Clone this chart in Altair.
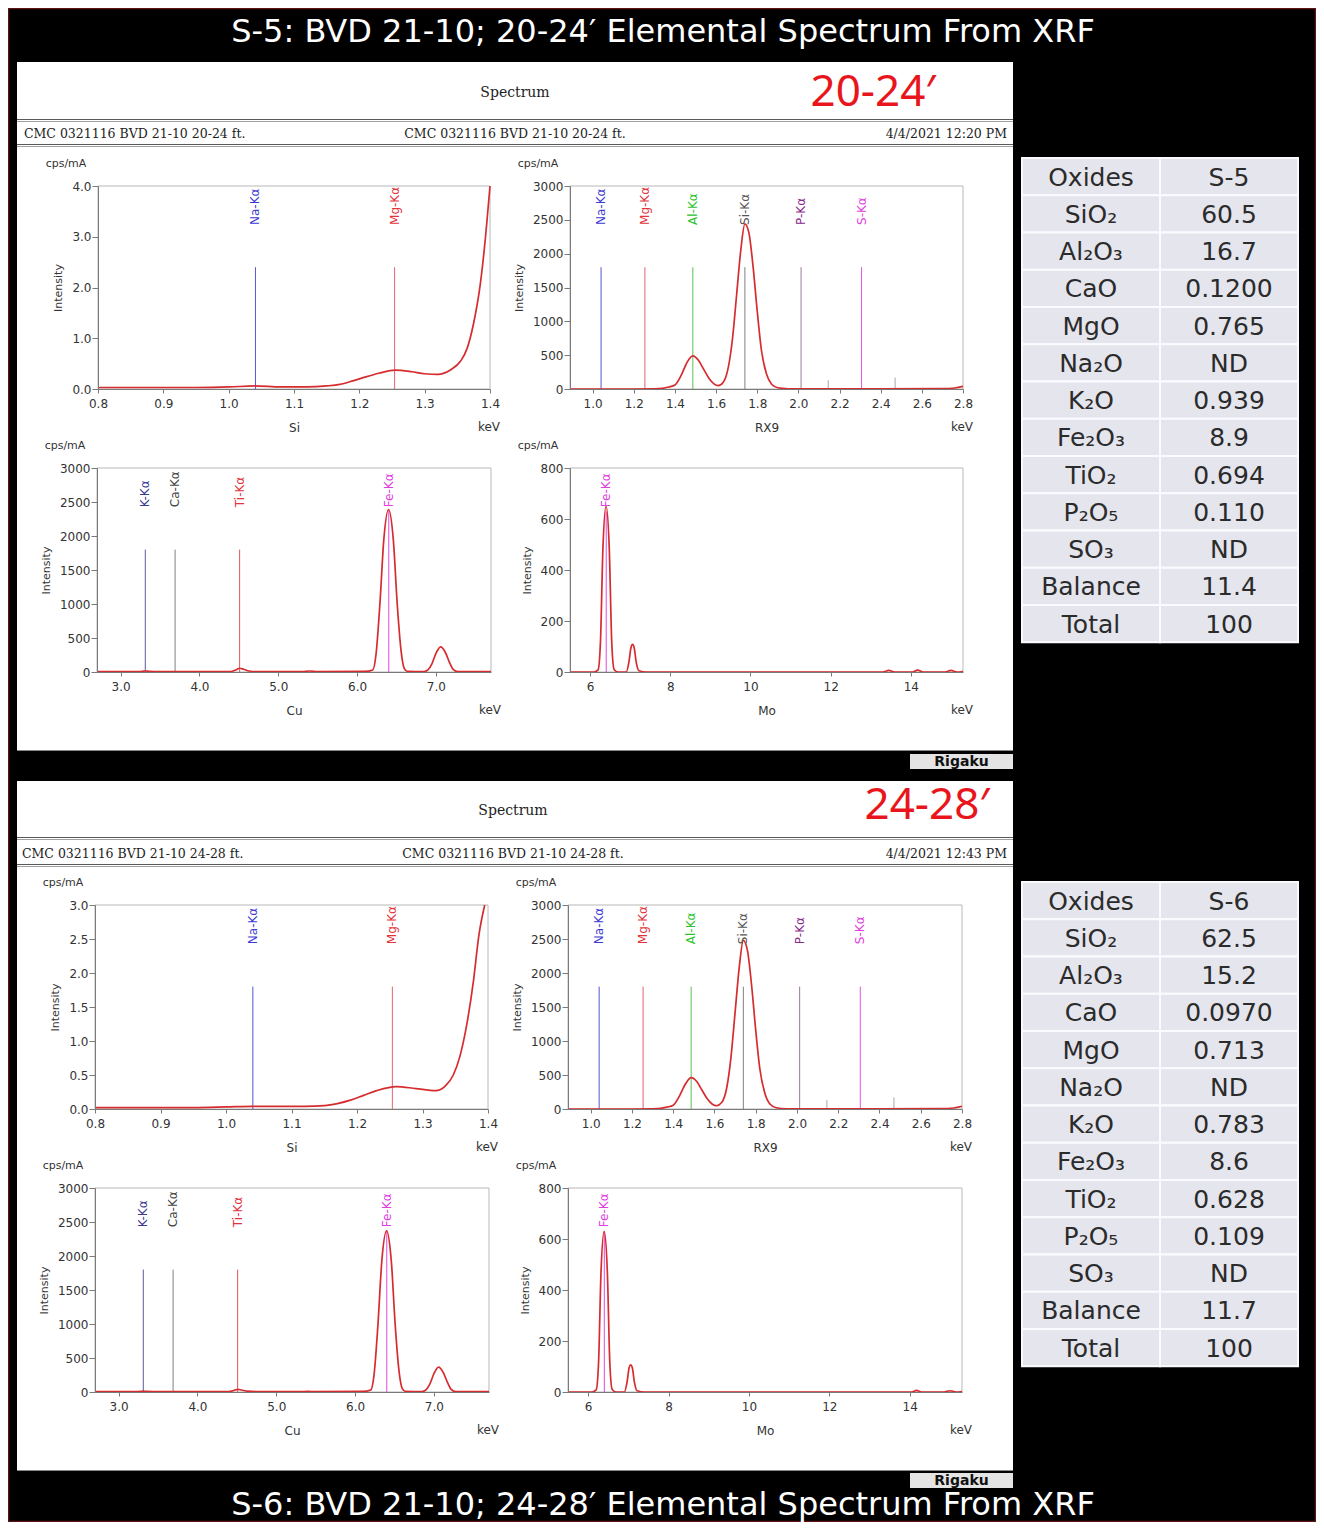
import altair as alt
import pandas as pd

# ------------------------------------------------------------------ data
title_top = "S-5: BVD 21-10; 20-24′ Elemental Spectrum From XRF"
title_bottom = "S-6: BVD 21-10; 24-28′ Elemental Spectrum From XRF"
depth_labels = ["20-24′", "24-28′"]
sample_ids = ["CMC 0321116 BVD 21-10 20-24 ft.", "CMC 0321116 BVD 21-10 24-28 ft."]
timestamps = ["4/4/2021 12:20 PM", "4/4/2021 12:43 PM"]
header_word = "Spectrum"
logo_word = "Rigaku"

oxide_rows = ["Oxides", "SiO₂", "Al₂O₃", "CaO", "MgO", "Na₂O", "K₂O", "Fe₂O₃",
              "TiO₂", "P₂O₅", "SO₃", "Balance", "Total"]
s5_column = ["S-5", "60.5", "16.7", "0.1200", "0.765", "ND", "0.939", "8.9",
             "0.694", "0.110", "ND", "11.4", "100"]
s6_column = ["S-6", "62.5", "15.2", "0.0970", "0.713", "ND", "0.783", "8.6",
             "0.628", "0.109", "ND", "11.7", "100"]

# element marker lines (names, energies keV, marker heights)
si_elements = ["Na-Kα", "Mg-Kα"]
si_energies = [1.041, 1.254]
si_heights_1 = [2.4, 2.4]
si_heights_2 = [1.8, 1.8]
rx9_elements = ["Na-Kα", "Mg-Kα", "Al-Kα", "Si-Kα", "P-Kα", "S-Kα"]
rx9_energies = [1.041, 1.254, 1.487, 1.740, 2.013, 2.307]
rx9_heights = [1800, 1800, 1800, 1800, 1800, 1800]
rx9_minor_energies = [2.145, 2.470]
rx9_minor_heights = [130, 170]
cu_elements = ["K-Kα", "Ca-Kα", "Ti-Kα", "Fe-Kα"]
cu_energies = [3.313, 3.691, 4.510, 6.403]
cu_heights = [1800, 1800, 1800, 2380]
mo_elements = ["Fe-Kα"]
mo_energies = [6.403]
mo_heights = [630]

# spectra: S-5 (20-24')
si_kev_1 = [0.80, 0.85, 0.90, 0.95, 1.00, 1.04, 1.08, 1.12, 1.15, 1.17, 1.19, 1.21,
            1.23, 1.255, 1.28, 1.30, 1.32, 1.34, 1.355, 1.365, 1.375, 1.385, 1.392, 1.400]
si_int_1 = [0.03, 0.03, 0.03, 0.03, 0.04, 0.06, 0.04, 0.04, 0.06, 0.09, 0.16, 0.24,
            0.31, 0.37, 0.34, 0.30, 0.29, 0.38, 0.55, 0.80, 1.30, 2.05, 2.85, 4.00]
rx9_kev_1 = [0.89, 1.00, 1.20, 1.30, 1.34, 1.37, 1.40, 1.43, 1.46, 1.487, 1.515, 1.54,
             1.565, 1.59, 1.61, 1.635, 1.66, 1.68, 1.70, 1.72, 1.74, 1.76, 1.78, 1.80,
             1.82, 1.845, 1.87, 1.90, 1.95, 2.00, 2.40, 2.70, 2.76, 2.80]
rx9_int_1 = [0, 0, 0, 2, 10, 30, 60, 200, 400, 490, 420, 290,
             160, 75, 50, 100, 330, 750, 1400, 2050, 2440, 2300, 1800, 1150,
             580, 220, 70, 18, 4, 2, 2, 5, 15, 38]
cu_kev_1 = [2.70, 3.20, 3.28, 3.31, 3.36, 3.50, 4.40, 4.46, 4.51, 4.56, 4.63, 4.75,
            5.30, 5.40, 5.50, 6.10, 6.20, 6.24, 6.29, 6.34, 6.40, 6.46, 6.51, 6.56,
            6.60, 6.64, 6.85, 6.90, 6.95, 7.00, 7.06, 7.12, 7.17, 7.22, 7.28, 7.70]
cu_int_1 = [5, 5, 10, 15, 10, 5, 5, 30, 55, 40, 15, 5,
            5, 15, 5, 8, 30, 250, 1000, 1950, 2390, 1950, 1000, 300,
            50, 8, 5, 30, 120, 270, 370, 290, 150, 40, 6, 5]
mo_kev_1 = [5.50, 6.10, 6.20, 6.26, 6.32, 6.40, 6.48, 6.54, 6.60, 6.70, 6.90, 6.97,
            7.02, 7.06, 7.10, 7.15, 7.22, 7.40, 13.30, 13.45, 13.60, 14.05, 14.17,
            14.30, 14.85, 15.00, 15.15, 15.30]
mo_int_1 = [0, 0, 8, 120, 480, 650, 480, 120, 10, 0, 0, 40,
            95, 108, 95, 40, 5, 0, 0, 6, 0, 0, 7,
            0, 0, 6, 0, 2]

# spectra: S-6 (24-28')
si_kev_2 = [0.80, 0.85, 0.90, 0.95, 1.00, 1.04, 1.08, 1.12, 1.15, 1.17, 1.19, 1.21,
            1.23, 1.26, 1.29, 1.32, 1.335, 1.347, 1.357, 1.367, 1.378, 1.386, 1.395]
si_int_2 = [0.02, 0.02, 0.02, 0.02, 0.03, 0.04, 0.04, 0.04, 0.05, 0.08, 0.13, 0.20,
            0.27, 0.33, 0.30, 0.27, 0.34, 0.50, 0.77, 1.21, 1.90, 2.55, 3.00]
rx9_kev_2 = [0.89, 1.00, 1.20, 1.30, 1.34, 1.37, 1.40, 1.43, 1.46, 1.487, 1.515, 1.54,
             1.565, 1.59, 1.61, 1.635, 1.66, 1.68, 1.70, 1.72, 1.74, 1.76, 1.78, 1.80,
             1.82, 1.845, 1.87, 1.90, 1.95, 2.00, 2.40, 2.70, 2.76, 2.80]
rx9_int_2 = [0, 0, 0, 2, 9, 28, 55, 190, 370, 460, 400, 275,
             150, 70, 48, 95, 320, 760, 1420, 2080, 2480, 2330, 1820, 1160,
             590, 225, 70, 18, 4, 2, 2, 5, 15, 40]
cu_kev_2 = [2.70, 3.20, 3.28, 3.31, 3.36, 3.50, 4.40, 4.46, 4.51, 4.56, 4.63, 4.75,
            5.30, 5.40, 5.50, 6.10, 6.20, 6.24, 6.29, 6.34, 6.40, 6.46, 6.51, 6.56,
            6.60, 6.64, 6.85, 6.90, 6.95, 7.00, 7.06, 7.12, 7.17, 7.22, 7.28, 7.70]
cu_int_2 = [5, 5, 8, 12, 8, 5, 5, 22, 40, 30, 12, 5,
            5, 10, 5, 8, 30, 240, 980, 1930, 2370, 1930, 980, 290,
            50, 8, 5, 30, 120, 265, 365, 285, 150, 40, 6, 5]
mo_kev_2 = [5.50, 6.10, 6.20, 6.26, 6.32, 6.40, 6.48, 6.54, 6.60, 6.70, 6.90, 6.97,
            7.02, 7.06, 7.10, 7.15, 7.22, 7.40, 13.30, 14.05, 14.17, 14.30, 14.85,
            15.00, 15.15, 15.30]
mo_int_2 = [0, 0, 8, 115, 465, 630, 465, 115, 10, 0, 0, 40,
            95, 106, 95, 40, 5, 0, 0, 0, 6, 0, 0,
            5, 0, 2]

# ------------------------------------------------------------------ styles / layout
W, H = 1308, 1514
OX, OY = 8, 8            # page position of the chart origin
PF = "DejaVu Sans"
SERIF = "DejaVu Serif"
CURVE = "#d62c2f"
TXT = "#333333"
LABEL_FRAC = 0.808

LABEL_COLOR = {"Na-Kα": "#3a3ad2", "Mg-Kα": "#e2323a", "Al-Kα": "#2cc22c",
               "Si-Kα": "#555555", "P-Kα": "#86288a", "S-Kα": "#e03ee0",
               "K-Kα": "#3a3a96", "Ca-Kα": "#444444", "Ti-Kα": "#e2323a",
               "Fe-Kα": "#e03ee0"}
LINE_COLOR = {"Na-Kα": "#5656d4", "Mg-Kα": "#e06472", "Al-Kα": "#56c256",
              "Si-Kα": "#808080", "P-Kα": "#9a7a9a", "S-Kα": "#e056e0",
              "K-Kα": "#5c5c9c", "Ca-Kα": "#808080", "Ti-Kα": "#e05656",
              "Fe-Kα": "#e048e0"}

# subplot boxes: (left, right, bottom, top) in page pixels
BOXES = [
    [(98, 490, 389, 186), (570, 963, 389, 186), (97, 491, 672, 468), (570, 963, 672, 468)],
    [(95, 488, 1109, 905), (568, 962, 1109, 905), (95, 489, 1392, 1188), (568, 962, 1392, 1188)],
]

AX = dict(labelFont=PF, labelFontSize=12, labelColor=TXT, titleFont=PF,
          titleColor=TXT, titleFontWeight="normal", domainColor="#7a7a7a",
          tickColor="#7a7a7a", grid=False, zindex=1, labelOverlap=False)


def subplot(box, xdom, ymax, xticks, xfmt, yticks, yfmt, xtitle, kev, inten,
            names, energies, heights, minor_e=None, minor_h=None):
    px0, px1, pyb, pyt = box
    xs = alt.Scale(domain=xdom, range=[px0 - OX, px1 - OX], nice=False, zero=False)
    ys = alt.Scale(domain=[0, ymax], range=[pyb - OY, pyt - OY], nice=False, zero=False)
    xax = alt.Axis(orient="bottom", offset=(pyb - OY) - H, values=xticks, format=xfmt,
                   title=xtitle, titleFontSize=12, tickSize=4, labelPadding=5,
                   titlePadding=13, labelFlush=False, **AX)
    yax = alt.Axis(orient="left", offset=-(px0 - OX), values=yticks, format=yfmt,
                   title="Intensity", titleFontSize=11, tickSize=6, labelPadding=1,
                   titlePadding=8, **AX)

    frame_df = pd.DataFrame({"a": [xdom[0]], "b": [xdom[1]], "c": [0], "d": [ymax]})
    frame = alt.Chart(frame_df).mark_rect(fillOpacity=0, stroke="#b8b8b8", strokeWidth=1).encode(
        x=alt.X("a:Q", scale=xs, axis=xax), x2="b",
        y=alt.Y("c:Q", scale=ys, axis=yax), y2="d")

    ldf = pd.DataFrame({"e": energies, "h": heights, "z": [0] * len(names), "t": names})
    ldf["lc"] = [LINE_COLOR[n] for n in names]
    ldf["tc"] = [LABEL_COLOR[n] for n in names]
    ldf["ly"] = [LABEL_FRAC * ymax] * len(names)
    layers = [frame]
    if minor_e:
        mdf = pd.DataFrame({"e": minor_e, "h": minor_h, "z": [0] * len(minor_e)})
        layers.append(alt.Chart(mdf).mark_rule(color="#a8a8a8", strokeWidth=1).encode(
            x=alt.X("e:Q", scale=xs, axis=xax), y=alt.Y("z:Q", scale=ys, axis=yax), y2="h"))
    layers.append(alt.Chart(ldf).mark_rule(strokeWidth=1).encode(
        x=alt.X("e:Q", scale=xs, axis=xax), y=alt.Y("z:Q", scale=ys, axis=yax), y2="h",
        color=alt.Color("lc:N", scale=None)))
    cdf = pd.DataFrame({"kev": kev, "i": inten})
    layers.append(alt.Chart(cdf).mark_line(interpolate="monotone", color=CURVE, strokeWidth=1.7).encode(
        x=alt.X("kev:Q", scale=xs, axis=xax), y=alt.Y("i:Q", scale=ys, axis=yax)))
    layers.append(alt.Chart(ldf).mark_text(angle=270, align="left", baseline="middle",
                                           font=PF, fontSize=12).encode(
        x=alt.X("e:Q", scale=xs, axis=xax), y=alt.Y("ly:Q", scale=ys, axis=yax),
        text="t:N", color=alt.Color("tc:N", scale=None)))
    return alt.layer(*layers)


subs = []
spectra = [
    (si_kev_1, si_int_1, rx9_kev_1, rx9_int_1, cu_kev_1, cu_int_1, mo_kev_1, mo_int_1, 4.0, si_heights_1),
    (si_kev_2, si_int_2, rx9_kev_2, rx9_int_2, cu_kev_2, cu_int_2, mo_kev_2, mo_int_2, 3.0, si_heights_2),
]
for p, (sk, si, rk, ri, ck, ci, mk, mi, simax, sih) in enumerate(spectra):
    bA, bB, bC, bD = BOXES[p]
    si_ticks = [0.0, 1.0, 2.0, 3.0, 4.0] if simax == 4.0 else [0.0, 0.5, 1.0, 1.5, 2.0, 2.5, 3.0]
    subs.append(subplot(bA, [0.8, 1.4], simax, [0.8, 0.9, 1.0, 1.1, 1.2, 1.3, 1.4], ".1f",
                        si_ticks, ".1f", "Si", sk, si, si_elements, si_energies, sih))
    subs.append(subplot(bB, [0.89, 2.8], 3000, [1.0, 1.2, 1.4, 1.6, 1.8, 2.0, 2.2, 2.4, 2.6, 2.8], ".1f",
                        [0, 500, 1000, 1500, 2000, 2500, 3000], "d", "RX9", rk, ri,
                        rx9_elements, rx9_energies, rx9_heights, rx9_minor_energies, rx9_minor_heights))
    subs.append(subplot(bC, [2.7, 7.7], 3000, [3.0, 4.0, 5.0, 6.0, 7.0], ".1f",
                        [0, 500, 1000, 1500, 2000, 2500, 3000], "d", "Cu", ck, ci,
                        cu_elements, cu_energies, cu_heights))
    subs.append(subplot(bD, [5.5, 15.3], 800, [6, 8, 10, 12, 14], "d",
                        [0, 200, 400, 600, 800], "d", "Mo", mk, mi,
                        mo_elements, mo_energies, mo_heights))

# ------------------------------------------------------------------ decoration (page pixels)
XS = alt.Scale(domain=[OX, OX + W], range=[0, W], nice=False, zero=False)
YS = alt.Scale(domain=[OY, OY + H], range=[0, H], nice=False, zero=False)


def px(f):
    return alt.X(f, scale=XS, axis=None)


def py(f):
    return alt.Y(f, scale=YS, axis=None)


rects = pd.DataFrame({
    "x": [17, 17, 910, 910], "x2": [1013, 1013, 1013, 1013],
    "y": [62, 781, 754, 1473], "y2": [751, 1471, 769, 1488],
    "f": ["#ffffff", "#ffffff", "#e4e4e4", "#e4e4e4"]})
rect_layer = alt.Chart(rects).mark_rect().encode(
    x=px("x:Q"), x2="x2", y=py("y:Q"), y2="y2", color=alt.Color("f:N", scale=None))

border = alt.Chart(pd.DataFrame({"x": [8.5], "x2": [1315.5], "y": [8.5], "y2": [1521.5]})).mark_rect(
    fillOpacity=0, stroke="#5e1414", strokeWidth=1.5).encode(x=px("x:Q"), x2="x2", y=py("y:Q"), y2="y2")

rule_rows = []
for (ya, yb, yend) in [(119.5, 144.5, 750.5), (837.5, 864.5, 1470.5)]:
    rule_rows += [(17, 1013, ya, "#5a5a5a"), (17, 1013, ya + 2, "#a0a0a0"),
                  (17, 1013, yb, "#5a5a5a"), (17, 1013, yb + 2, "#a0a0a0"),
                  (17, 1013, yend, "#8a8a8a")]
rules_df = pd.DataFrame(rule_rows, columns=["x", "x2", "y", "c"])
rule_layer = alt.Chart(rules_df).mark_rule(strokeWidth=1).encode(
    x=px("x:Q"), x2="x2", y=py("y:Q"), color=alt.Color("c:N", scale=None))

# table cells and text
cell_rows, table_text = [], []
ROW_H = 37.25
for top, col in [(158, s5_column), (882, s6_column)]:
    for i in range(len(oxide_rows)):
        y0 = top + i * ROW_H
        cell_rows.append((1022, 1160, y0, y0 + ROW_H))
        cell_rows.append((1160, 1298, y0, y0 + ROW_H))
        table_text.append((1091, y0 + ROW_H / 2 + 1, oxide_rows[i]))
        table_text.append((1229, y0 + ROW_H / 2 + 1, col[i]))
cells = pd.DataFrame(cell_rows, columns=["x", "x2", "y", "y2"])
cell_layer = alt.Chart(cells).mark_rect(fill="#e5e5ed", stroke="#fbfbff", strokeWidth=2).encode(
    x=px("x:Q"), x2="x2", y=py("y:Q"), y2="y2")


def text_layer(rows, **kw):
    df = pd.DataFrame(rows, columns=["x", "y", "t"])
    return alt.Chart(df).mark_text(**kw).encode(x=px("x:Q"), y=py("y:Q"), text="t:N")


texts = [
    text_layer([(663, 42, title_top), (663, 1515, title_bottom)],
               font=PF, fontSize=32, color="white", align="center", baseline="alphabetic"),
    text_layer([(873, 106, depth_labels[0]), (927, 819, depth_labels[1])],
               font="Noto Sans", fontSize=44, color="#e8161c", align="center", baseline="alphabetic"),
    text_layer([(515, 93, header_word), (513, 811, header_word)],
               font=SERIF, fontSize=14, color="#222222", align="center", baseline="middle"),
    text_layer([(24, 134, sample_ids[0]), (22, 854, sample_ids[1])],
               font=SERIF, fontSize=12.5, color="#222222", align="left", baseline="middle"),
    text_layer([(515, 134, sample_ids[0]), (513, 854, sample_ids[1])],
               font=SERIF, fontSize=12.5, color="#222222", align="center", baseline="middle"),
    text_layer([(1007, 134, timestamps[0]), (1007, 854, timestamps[1])],
               font=SERIF, fontSize=12.5, color="#222222", align="right", baseline="middle"),
    text_layer([(961.5, 762, logo_word), (961.5, 1481, logo_word)],
               font=PF, fontSize=14, fontWeight="bold", color="#111111", align="center", baseline="middle"),
    text_layer(table_text, font=PF, fontSize=25, color="#2b2b2b", align="center", baseline="middle"),
    text_layer([(b[0] - 32, b[3] - 22, "cps/mA") for panel in BOXES for b in panel],
               font=PF, fontSize=11, color=TXT, align="center", baseline="middle"),
    text_layer([(b[1] - 1, b[2] + 38, "keV") for panel in BOXES for b in panel],
               font=PF, fontSize=12, color=TXT, align="center", baseline="middle"),
]

deco = alt.layer(rect_layer, rule_layer, cell_layer, border, *texts)

chart = alt.layer(deco, *subs).resolve_scale(x="independent", y="independent").properties(
    width=W, height=H, padding=0, autosize=alt.AutoSizeParams(type="none")
).configure(background="black").configure_view(stroke=None)

chart.save("out.html", embed_options={"renderer": "svg", "actions": False})
